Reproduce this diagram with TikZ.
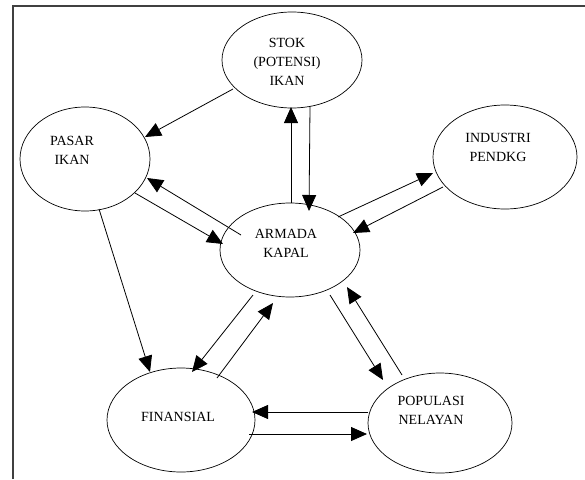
\documentclass[tikz,border=0pt]{standalone}
\usepackage{fontspec}
\setmainfont{Liberation Serif}
\usetikzlibrary{shapes.geometric,arrows.meta}
\tikzset{
  oval/.style={draw=black,line width=0.7pt,ellipse,inner sep=0pt},
  lbl/.style={font=\fontsize{14}{19}\selectfont,align=center,inner sep=0pt},
  link/.style={draw=black,line width=0.8pt,-{Triangle[length=16pt,width=14pt]}},
  frameline/.style={draw=black!75,line width=2pt}
}
\begin{document}
\begin{tikzpicture}[x=1pt,y=-1pt]
\useasboundingbox (0,0) rectangle (585,479);
% frame
\coordinate (fr1) at (12.5,479);
\coordinate (fr2) at (12.5,5.5);
\coordinate (fr3) at (585,5.5);
\draw[frameline] (fr1) -- (fr2) -- (fr3);
% ellipses
\node[oval,minimum width=140pt,minimum height=96pt]  (stok) at (292,60) {};
\node[oval,minimum width=130pt,minimum height=104pt] (pasar) at (85,159) {};
\node[oval,minimum width=144pt,minimum height=104pt] (ind) at (505,157) {};
\node[oval,minimum width=140pt,minimum height=94pt]  (arm) at (290,250) {};
\node[oval,minimum width=148pt,minimum height=104pt] (fin) at (181,420) {};
\node[oval,minimum width=144pt,minimum height=100pt] (pop) at (440,423) {};
% labels
\node[lbl] (tstok) at (287,62) {STOK\\(POTENSI)\\IKAN};
\node[lbl] (tpasar) at (72,150) {PASAR\\IKAN};
\node[lbl] (tind) at (498,147) {INDUSTRI\\PENDKG};
\node[lbl] (tarm) at (286,243) {ARMADA\\KAPAL};
\node[lbl] (tfin) at (178,417) {FINANSIAL};
\node[lbl] (tpop) at (431,410) {POPULASI\\NELAYAN};
% connectors
\draw[link] ([shift={(-59,29)}]stok.center) -- ([shift={(60,-22)}]pasar.center);
\draw[link] ([shift={(1,-47)}]arm.center) -- ([shift={(-1,47)}]stok.center);
\draw[link] ([shift={(18,46.5)}]stok.center) -- ([shift={(19,-39)}]arm.center);
\draw[link] ([shift={(-49,-15)}]arm.center) -- ([shift={(62,19)}]pasar.center);
\draw[link] ([shift={(50,34)}]pasar.center) -- ([shift={(-67,-6)}]arm.center);
\draw[link] ([shift={(48,-33)}]arm.center) -- ([shift={(-72,16)}]ind.center);
\draw[link] ([shift={(-62,30)}]ind.center) -- ([shift={(63,-17)}]arm.center);
\draw[link] ([shift={(14,50)}]pasar.center) -- ([shift={(-31,-48)}]fin.center);
\draw[link] ([shift={(-37,45)}]arm.center) -- ([shift={(11,-48)}]fin.center);
\draw[link] ([shift={(36,-42)}]fin.center) -- ([shift={(-17,53)}]arm.center);
\draw[link] ([shift={(40,45)}]arm.center) -- ([shift={(-57,-43)}]pop.center);
\draw[link] ([shift={(-38,-48)}]pop.center) -- ([shift={(57,37)}]arm.center);
\draw[link] ([shift={(-72,-11)}]pop.center) -- ([shift={(71,-8)}]fin.center);
\draw[link] ([shift={(68,14)}]fin.center) -- ([shift={(-73,11)}]pop.center);
\end{tikzpicture}
\end{document}
